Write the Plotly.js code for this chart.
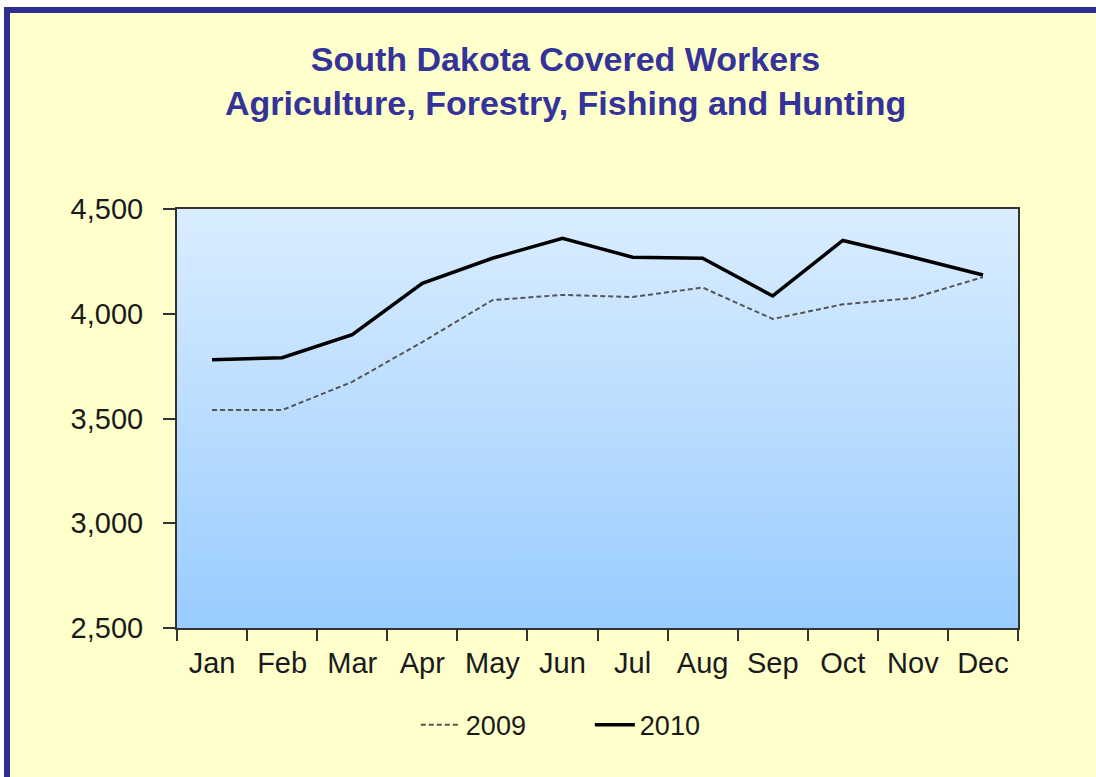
<!DOCTYPE html>
<html>
<head>
<meta charset="utf-8">
<script src="https://cdn.plot.ly/plotly-3.0.1.min.js"></script>
<style>
  html, body { margin:0; padding:0; background:#ffffff; width:1096px; height:777px; overflow:hidden; }
  #frame { position:absolute; left:4px; top:7px; width:1092px; height:770px; background:#FFFFCC;
           border-top:6px solid #2E2E8F; border-left:6px solid #2E2E8F; box-sizing:border-box; }
  #chart { position:absolute; left:0; top:0; width:1096px; height:777px; }
</style>
</head>
<body>
<div id="frame"></div>
<div id="chart"></div>
<script>
const months = ["Jan","Feb","Mar","Apr","May","Jun","Jul","Aug","Sep","Oct","Nov","Dec"];
const workers2009 = [3540, 3540, 3675, 3865, 4065, 4090, 4080, 4125, 3975, 4045, 4075, 4175];
const workers2010 = [3780, 3790, 3900, 4145, 4265, 4360, 4270, 4265, 4085, 4350, 4270, 4185];
const yTicks = [2500, 3000, 3500, 4000, 4500];
const yTickText = ["2,500", "3,000", "3,500", "4,000", "4,500"];

const svg = "<svg xmlns='http://www.w3.org/2000/svg' width='100' height='100' preserveAspectRatio='none'>" +
  "<defs><linearGradient id='g' x1='0' y1='0' x2='0' y2='1'>" +
  "<stop offset='0' stop-color='#DAEDFF'/><stop offset='1' stop-color='#99CCFF'/>" +
  "</linearGradient></defs><rect width='100' height='100' fill='url(#g)'/></svg>";
const gradSrc = "data:image/svg+xml;charset=utf-8," + encodeURIComponent(svg);

const font = "Liberation Sans, Arial, sans-serif";

const traces = [
  { x: months, y: workers2009, name: "2009", type: "scatter", mode: "lines",
    line: { color: "#555555", width: 2, dash: "5px,3px" } },
  { x: months, y: workers2010, name: "2010", type: "scatter", mode: "lines",
    line: { color: "#000000", width: 3.5 } }
];

const layout = {
  width: 1096, height: 777,
  paper_bgcolor: "rgba(0,0,0,0)",
  plot_bgcolor: "rgba(0,0,0,0)",
  margin: { l: 177, r: 78, t: 209, b: 149 },
  title: {
    text: "<b>South Dakota Covered Workers<br>Agriculture, Forestry, Fishing and Hunting</b>",
    font: { family: font, size: 34, color: "#333399" },
    x: 0.516, xref: "container", xanchor: "center",
    y: 1 - 71/777, yref: "container", yanchor: "middle"
  },
  showlegend: true,
  legend: {
    orientation: "h", x: 0.284, xanchor: "left", y: -0.232, yanchor: "middle",
    font: { family: font, size: 27, color: "#1a1a1a" },
    bgcolor: "rgba(0,0,0,0)", itemwidth: 40,
    entrywidth: 119, entrywidthmode: "pixels"
  },
  xaxis: {
    type: "category",
    range: [-0.5, 11.5],
    tickson: "boundaries",
    ticks: "outside", ticklen: 11, tickwidth: 2, tickcolor: "#333333",
    showline: true, linecolor: "#333333", linewidth: 2, mirror: true,
    showgrid: false, zeroline: false,
    tickfont: { family: font, size: 29, color: "#1a1a1a" },
    ticklabelstandoff: 8,
    fixedrange: true
  },
  yaxis: {
    range: [2500, 4500],
    tickvals: yTicks, ticktext: yTickText,
    ticks: "outside", ticklen: 12, tickwidth: 2, tickcolor: "#333333",
    showline: true, linecolor: "#333333", linewidth: 2, mirror: true,
    showgrid: false, zeroline: false,
    tickfont: { family: font, size: 29, color: "#1a1a1a" },
    ticklabelstandoff: 14,
    fixedrange: true
  },
  images: [{
    source: gradSrc, xref: "paper", yref: "paper", x: 0, y: 1, sizex: 1, sizey: 1,
    xanchor: "left", yanchor: "top", sizing: "stretch", layer: "below"
  }]
};

Plotly.newPlot("chart", traces, layout, { displayModeBar: false, staticPlot: true });
</script>
</body>
</html>
